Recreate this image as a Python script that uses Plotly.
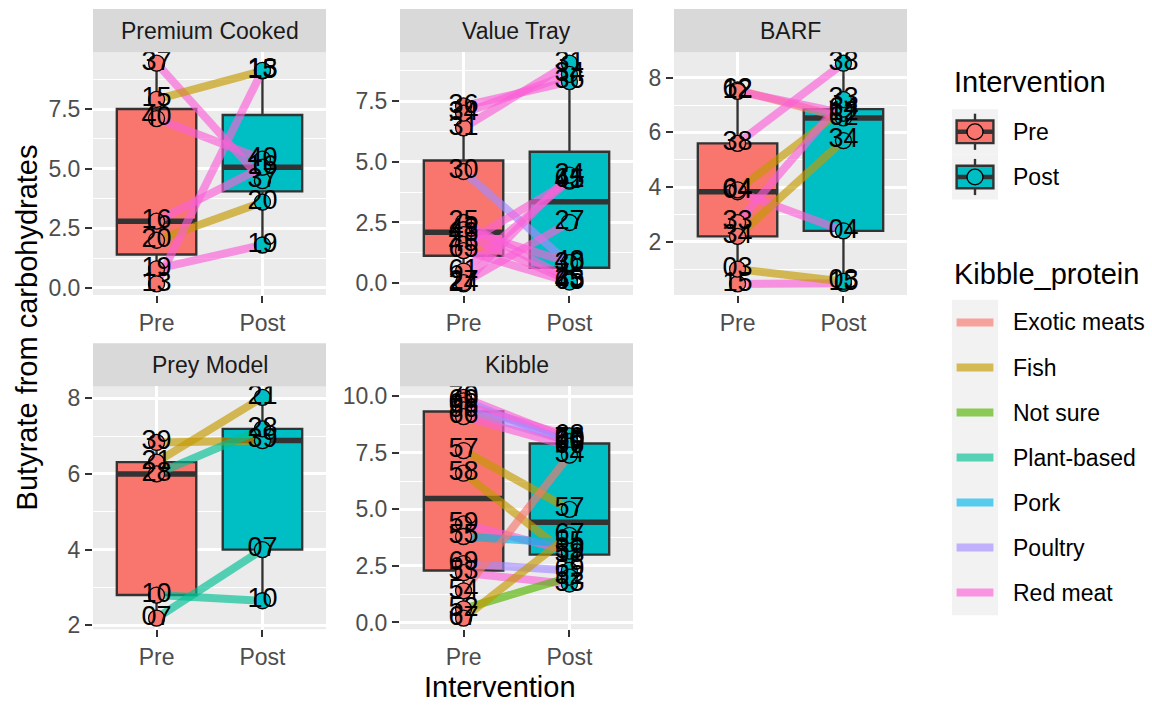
import numpy as np
import plotly.graph_objects as go

W, H = 1152, 707

# ---------------- data ----------------
facet_names = ["Premium Cooked", "Value Tray", "BARF", "Prey Model", "Kibble"]
interventions = ["Pre", "Post"]
proteins = ["Exotic meats", "Fish", "Not sure", "Plant-based", "Pork", "Poultry", "Red meat"]

pc_ids = ["37", "15", "40", "16", "20", "19", "13"]
pc_protein = ["Red meat", "Fish", "Red meat", "Red meat", "Fish", "Red meat", "Red meat"]
pc_pre = [9.42, 7.9, 7.1, 2.8, 2.0, 0.8, 0.17]
pc_post = [4.5, 9.1, 5.4, 5.06, 3.6, 1.8, 9.12]

vt_ids = ["31", "36", "34", "30", "25", "48", "43", "45", "65", "61", "24", "27"]
vt_protein = ["Red meat", "Red meat", "Red meat", "Poultry", "Red meat", "Red meat",
              "Red meat", "Red meat", "Red meat", "Red meat", "Red meat", "Red meat"]
vt_pre = [6.4, 7.3, 7.0, 4.6, 2.5, 2.2, 2.0, 1.6, 1.34, 0.5, -0.03, 0.02]
vt_post = [9.06, 8.3, 8.6, 0.8, 0.15, 0.85, 0.1, 4.2, 0.05, 4.25, 4.45, 2.5]

barf_ids = ["62", "12", "38", "04", "64", "33", "34", "15", "03"]
barf_protein = ["Exotic meats", "Red meat", "Red meat", "Red meat", "Fish", "Red meat",
                "Fish", "Red meat", "Fish"]
barf_pre = [7.55, 7.5, 5.6, 3.83, 3.9, 2.7, 2.2, 0.46, 1.0]
barf_post = [6.53, 6.7, 8.53, 2.4, 6.85, 7.2, 5.7, 0.48, 0.55]

prey_ids = ["39", "21", "28", "07", "10"]
prey_protein = ["Fish", "Fish", "Plant-based", "Plant-based", "Plant-based"]
prey_pre = [6.83, 6.31, 6.0, 2.19, 2.8]
prey_post = [6.88, 8.02, 7.19, 4.0, 2.65]

kib_ids = ["70", "60", "68", "56", "66", "57", "58", "59", "55", "69", "53", "54", "52", "67"]
kib_protein = ["Red meat", "Poultry", "Red meat", "Poultry", "Red meat", "Fish", "Fish",
               "Red meat", "Pork", "Poultry", "Red meat", "Exotic meats", "Not sure", "Fish"]
kib_pre = [9.95, 9.8, 9.6, 9.4, 9.1, 7.6, 6.6, 4.36, 3.8, 2.6, 2.2, 1.4, 0.6, 0.19]
kib_post = [8.1, 7.95, 8.25, 8.0, 7.8, 5.0, 2.95, 3.15, 3.5, 2.3, 1.7, 7.4, 2.0, 3.85]

facet_data = [
    (pc_ids, pc_protein, pc_pre, pc_post),
    (vt_ids, vt_protein, vt_pre, vt_post),
    (barf_ids, barf_protein, barf_pre, barf_post),
    (prey_ids, prey_protein, prey_pre, prey_post),
    (kib_ids, kib_protein, kib_pre, kib_post),
]

# ---------------- styles ----------------
fill_cols = {"Pre": "#F8766D", "Post": "#00BFC4"}
prot_cols = {"Exotic meats": (248, 118, 109), "Fish": (196, 154, 0), "Not sure": (83, 180, 0),
             "Plant-based": (0, 192, 148), "Pork": (0, 182, 235), "Poultry": (165, 138, 255),
             "Red meat": (251, 97, 215)}
LINE_ALPHA = 0.65
FONT = "Liberation Sans"

def rgba(c, a):
    return "rgba(%d,%d,%d,%.2f)" % (c[0], c[1], c[2], a)

def px(x):
    return x / W

def py(y):
    return 1 - y / H

col_px = [(93, 326), (400, 633), (674, 907)]
row_px = [(50, 297), (390, 637)]
panel_pos = [(0, 0), (0, 1), (0, 2), (1, 0), (1, 1)]
ytick_cfg = [
    dict(dtick=2.5, tickformat=".1f", minor=1.25),
    dict(dtick=2.5, tickformat=".1f", minor=1.25),
    dict(dtick=2, tickformat="d", minor=1),
    dict(dtick=2, tickformat="d", minor=1),
    dict(dtick=2.5, tickformat=".1f", minor=1.25),
]
BOX_W = 0.75

fig = go.Figure()
layout = dict(
    width=W, height=H, margin=dict(l=0, r=0, t=0, b=0),
    paper_bgcolor="white", plot_bgcolor="#EBEBEB", showlegend=False,
    font=dict(family=FONT, color="#000000"),
)
shapes = []
annotations = []

for i, name in enumerate(facet_names):
    ids, prot, pre, post = facet_data[i]
    r, c = panel_pos[i]
    sfx = "" if i == 0 else str(i + 1)
    xa, ya = "x" + sfx, "y" + sfx
    x0p, x1p = col_px[c]
    y0p, y1p = row_px[r]

    allv = np.array(pre + post, dtype=float)
    lo, hi = allv.min(), allv.max()
    pad = 0.05 * (hi - lo)
    cfg = ytick_cfg[i]

    layout["xaxis" + sfx] = dict(
        domain=[px(x0p), px(x1p)], anchor=ya, range=[0.4, 2.6],
        tickmode="array", tickvals=[1, 2], ticktext=interventions,
        showgrid=True, gridcolor="white", gridwidth=2.6, zeroline=False,
        ticks="outside", ticklen=7, tickwidth=2, tickcolor="#333333",
        tickfont=dict(size=23, color="#4D4D4D", family=FONT), showline=False,
    )
    layout["yaxis" + sfx] = dict(
        domain=[py(y1p), py(y0p)], anchor=xa, range=[lo - pad, hi + pad],
        dtick=cfg["dtick"], tick0=0, tickformat=cfg["tickformat"],
        showgrid=True, gridcolor="white", gridwidth=2.6, zeroline=False,
        minor=dict(dtick=cfg["minor"], tick0=0, showgrid=True, gridcolor="white", gridwidth=1.3),
        ticks="outside", ticklen=7, tickwidth=2, tickcolor="#333333",
        tickfont=dict(size=23, color="#4D4D4D", family=FONT), showline=False,
    )

    # boxplots (statistics computed from the data)
    for k, (lab, vals) in enumerate([("Pre", pre), ("Post", post)]):
        v = np.array(vals, dtype=float)
        q1, med, q3 = np.percentile(v, [25, 50, 75])
        iqr = q3 - q1
        lf = v[v >= q1 - 1.5 * iqr].min()
        uf = v[v <= q3 + 1.5 * iqr].max()
        xpos = k + 1
        fig.add_trace(go.Box(
            x=[xpos], q1=[q1], median=[med], q3=[q3], lowerfence=[lf], upperfence=[uf],
            width=BOX_W, whiskerwidth=0, fillcolor=fill_cols[lab],
            line=dict(color="#333333", width=2.4), boxpoints=False,
            xaxis=xa, yaxis=ya, hoverinfo="skip",
        ))
        fig.add_trace(go.Scatter(
            x=[xpos - BOX_W / 2, xpos + BOX_W / 2], y=[med, med], mode="lines",
            line=dict(color="#333333", width=5.5), xaxis=xa, yaxis=ya, hoverinfo="skip",
        ))

    # paired lines
    for j in range(len(ids)):
        fig.add_trace(go.Scatter(
            x=[1, 2], y=[pre[j], post[j]], mode="lines",
            line=dict(color=rgba(prot_cols[prot[j]], LINE_ALPHA), width=8),
            xaxis=xa, yaxis=ya, hoverinfo="skip",
        ))

    # points and labels
    for k, (lab, vals) in enumerate([("Pre", pre), ("Post", post)]):
        fig.add_trace(go.Scatter(
            x=[k + 1] * len(vals), y=vals, mode="markers",
            marker=dict(size=16, color=fill_cols[lab], line=dict(color="black", width=1.3)),
            xaxis=xa, yaxis=ya, hoverinfo="skip",
        ))
    for k, (lab, vals) in enumerate([("Pre", pre), ("Post", post)]):
        fig.add_trace(go.Scatter(
            x=[k + 1] * len(vals), y=vals, mode="text", text=ids,
            textposition="middle center",
            textfont=dict(size=27, color="black", family=FONT),
            xaxis=xa, yaxis=ya, hoverinfo="skip",
        ))

    # strip
    sy0, sy1 = y0p - 44, y0p
    shapes.append(dict(type="rect", xref="paper", yref="paper",
                       x0=px(x0p), x1=px(x1p), y0=py(sy1), y1=py(sy0),
                       fillcolor="#D9D9D9", line=dict(width=0), layer="below"))
    annotations.append(dict(xref="paper", yref="paper", x=px((x0p + x1p) / 2), y=py((sy0 + sy1) / 2),
                            text=name, showarrow=False, xanchor="center", yanchor="middle",
                            font=dict(size=23, color="#1A1A1A", family=FONT)))

# axis titles
annotations.append(dict(xref="paper", yref="paper", x=px(500), y=py(678), text="Intervention",
                        showarrow=False, xanchor="center", yanchor="top",
                        font=dict(size=29, color="black", family=FONT)))
annotations.append(dict(xref="paper", yref="paper", x=px(27), y=py(330),
                        text="Butyrate from carbohydrates", textangle=-90,
                        showarrow=False, xanchor="center", yanchor="middle",
                        font=dict(size=29, color="black", family=FONT)))

# ---------------- manual legends ----------------
KX0, KX1 = 952, 998
KEY = 46
LAB_X = 1011

def key_bg(cy):
    shapes.append(dict(type="rect", xref="paper", yref="paper", x0=px(KX0), x1=px(KX1),
                       y0=py(cy + KEY / 2), y1=py(cy - KEY / 2), fillcolor="#F2F2F2",
                       line=dict(width=0)))

annotations.append(dict(xref="paper", yref="paper", x=px(952), y=py(80), text="Intervention",
                        showarrow=False, xanchor="left", yanchor="middle",
                        font=dict(size=29, color="black", family=FONT)))
int_cy = [131, 177]
for lab, cy in zip(interventions, int_cy):
    key_bg(cy)
    kx0, kx1 = KX0 + 0.1 * KEY, KX0 + 0.9 * KEY
    cx = (KX0 + KX1) / 2
    shapes.append(dict(type="line", xref="paper", yref="paper", x0=px(cx), x1=px(cx),
                       y0=py(cy - 0.4 * KEY), y1=py(cy + 0.4 * KEY),
                       line=dict(color="#333333", width=2.4)))
    shapes.append(dict(type="rect", xref="paper", yref="paper", x0=px(kx0), x1=px(kx1),
                       y0=py(cy + 0.25 * KEY), y1=py(cy - 0.25 * KEY), fillcolor=fill_cols[lab],
                       line=dict(color="#333333", width=2.4)))
    shapes.append(dict(type="line", xref="paper", yref="paper", x0=px(kx0), x1=px(kx1),
                       y0=py(cy), y1=py(cy), line=dict(color="#333333", width=4.5)))
    shapes.append(dict(type="circle", xref="paper", yref="paper", x0=px(cx - 8), x1=px(cx + 8),
                       y0=py(cy + 8), y1=py(cy - 8), fillcolor=fill_cols[lab],
                       line=dict(color="black", width=1.3)))
    annotations.append(dict(xref="paper", yref="paper", x=px(LAB_X), y=py(cy), text=lab,
                            showarrow=False, xanchor="left", yanchor="middle",
                            font=dict(size=23, color="black", family=FONT)))

annotations.append(dict(xref="paper", yref="paper", x=px(952), y=py(276), text="Kibble_protein",
                        showarrow=False, xanchor="left", yanchor="middle",
                        font=dict(size=29, color="black", family=FONT)))
prot_cy0 = 325
for n, p in enumerate(proteins):
    cy = prot_cy0 + n * 45.8
    key_bg(cy)
    shapes.append(dict(type="line", xref="paper", yref="paper",
                       x0=px(KX0 + 0.1 * KEY), x1=px(KX0 + 0.9 * KEY), y0=py(cy), y1=py(cy),
                       line=dict(color=rgba(prot_cols[p], LINE_ALPHA), width=8)))
    annotations.append(dict(xref="paper", yref="paper", x=px(LAB_X), y=py(cy), text=p,
                            showarrow=False, xanchor="left", yanchor="middle",
                            font=dict(size=23, color="black", family=FONT)))

layout["shapes"] = shapes
layout["annotations"] = annotations
fig.update_layout(**layout)

fig.write_html("out.html", config={"displayModeBar": False},
               post_script="document.body.style.margin='0';")
